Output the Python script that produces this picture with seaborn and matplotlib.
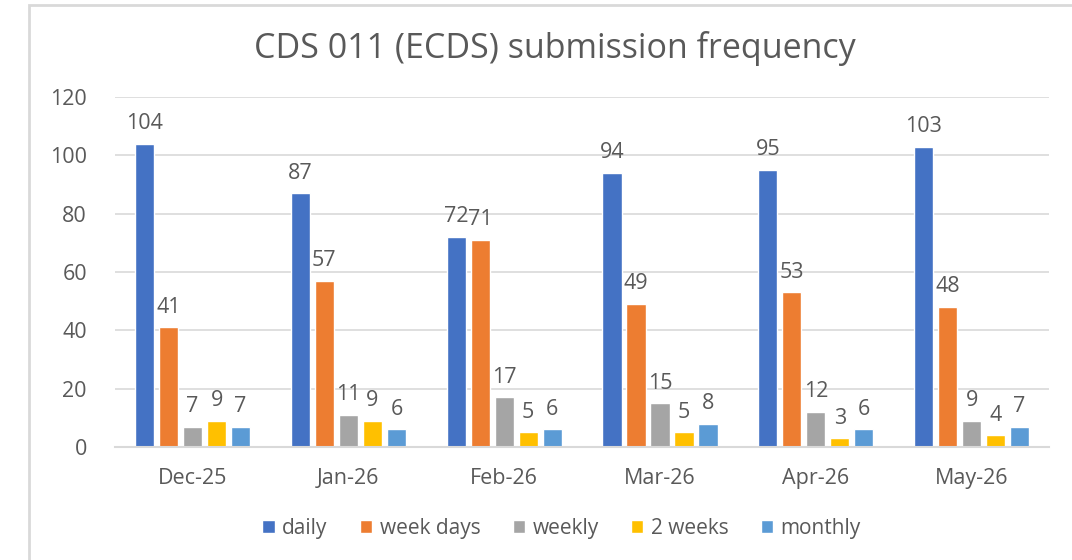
import pandas as pd
import seaborn as sns
from matplotlib import pyplot as plt
from matplotlib import patches

# chart data
months = ["Dec-25", "Jan-26", "Feb-26", "Mar-26", "Apr-26", "May-26"]
series = ["daily", "week days", "weekly", "2 weeks", "monthly"]
daily = [104, 87, 72, 94, 95, 103]
week_days = [41, 57, 71, 49, 53, 48]
weekly = [7, 11, 17, 15, 12, 9]
two_weeks = [9, 9, 5, 5, 3, 4]
monthly = [7, 6, 6, 8, 6, 7]
y_ticks = [0, 20, 40, 60, 80, 100, 120]

colors = ["#4472C4", "#ED7D31", "#A5A5A5", "#FFC000", "#5B9BD5"]
text_gray = "#595959"
line_gray = "#D9D9D9"

# long format table for seaborn
rows = []
for name, vals in zip(series, [daily, week_days, weekly, two_weeks, monthly]):
    for m, v in zip(months, vals):
        rows.append({"month": m, "series": name, "count": v})
df = pd.DataFrame(rows)

sns.set_style("white")
plt.rcParams["font.family"] = ["Open Sans", "DejaVu Sans"]

fig = plt.figure(figsize=(10.72, 5.6), dpi=100)
ax = fig.add_axes([0.107, 0.2018, 0.872, 0.625])

sns.barplot(data=df, x="month", y="count", hue="series", order=months,
            hue_order=series, palette=colors, width=0.77, gap=0.2,
            saturation=1, ax=ax, legend=True)

# value labels above bars
for cont in ax.containers:
    ax.bar_label(cont, padding=7, fontsize=15.5, color=text_gray)

ax.set_ylim(0, 120)
ax.set_yticks(y_ticks)
ax.set_xlim(-0.5, len(months) - 0.5)
ax.yaxis.grid(True, color=line_gray, linewidth=1.2)
ax.set_axisbelow(True)
for s in ["top", "right", "left"]:
    ax.spines[s].set_visible(False)
ax.spines["bottom"].set_color(line_gray)
ax.spines["bottom"].set_linewidth(1.5)
ax.set_xlabel("")
ax.set_ylabel("")

# ticks between categories like Excel
ax.set_xticks([i - 0.5 for i in range(len(months) + 1)], minor=True)
ax.tick_params(axis="x", which="minor", length=7, width=1.5, color=line_gray)
ax.tick_params(axis="x", which="major", length=0, pad=15, labelsize=15.5, labelcolor=text_gray)
ax.tick_params(axis="y", length=0, pad=20, labelsize=15.5, labelcolor=text_gray)

# title sits a bit left of the plot centre, as in the source chart
ax.set_title("CDS 011 (ECDS) submission frequency", fontsize=24.5, color=text_gray,
             pad=28, x=0.471)

# legend below the chart
handles, labels = ax.get_legend_handles_labels()
ax.legend(handles, labels, loc="center", bbox_to_anchor=(0.478, -0.232), ncol=5,
          frameon=False, fontsize=15, labelcolor=text_gray, handlelength=0.6,
          handleheight=0.6, handletextpad=0.35, columnspacing=1.55)

# chart frame (only top and left edges show in the picture)
fig.patches.append(patches.Rectangle((29 / 1072, -0.1), 1.2, 1.1 - 5 / 560,
                                     transform=fig.transFigure, fill=False,
                                     edgecolor=line_gray, linewidth=2))

fig.savefig("out.png", dpi=100)
